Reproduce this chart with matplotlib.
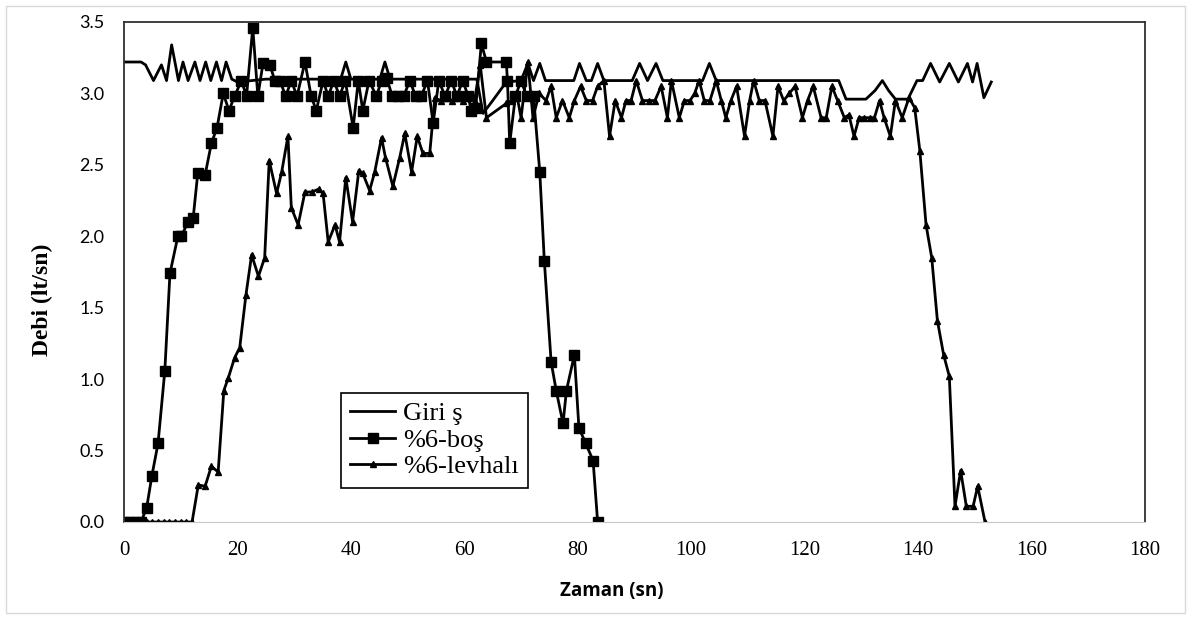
import numpy as np
import matplotlib.pyplot as plt
from matplotlib.patches import Rectangle

# (time s, flow lt/sn)
giris = [(0, 3.22), (1, 3.22), (2, 3.22), (3, 3.22), (3.8, 3.20), (5.2, 3.09), (6.6, 3.20),
         (7.5, 3.09), (8.4, 3.34), (9.6, 3.09), (10.4, 3.22), (11.3, 3.09), (12.5, 3.22),
         (13.4, 3.09), (14.4, 3.22), (15.3, 3.09), (16.3, 3.22), (17.2, 3.09), (18.0, 3.22),
         (19.0, 3.10), (20, 3.08), (25, 3.10), (30, 3.10), (35, 3.10), (38.2, 3.10),
         (39.1, 3.22), (40.0, 3.10), (45.1, 3.10), (46.0, 3.22), (46.9, 3.10), (55, 3.10),
         (62.2, 3.10), (63.3, 2.86), (65.0, 2.95), (67.4, 3.08), (70.0, 3.09), (71.2, 3.21),
         (72.2, 3.09), (73.3, 3.21), (74.3, 3.09), (79.3, 3.09), (80.3, 3.21), (81.5, 3.09),
         (82.4, 3.09), (83.5, 3.21), (84.6, 3.09), (89.6, 3.09), (90.9, 3.21), (92.3, 3.09),
         (93.8, 3.21), (95.0, 3.09), (102.0, 3.09), (103.2, 3.21), (104.4, 3.09), (126.0, 3.09),
         (127.3, 2.96), (130.8, 2.96), (132.4, 3.02), (133.7, 3.09), (134.8, 3.02), (136.0, 2.96),
         (138.2, 2.96), (139.8, 3.09), (140.8, 3.09), (142.2, 3.21), (143.8, 3.08), (145.5, 3.21),
         (147.1, 3.08), (148.7, 3.21), (149.6, 3.08), (150.4, 3.21), (151.6, 2.97), (152.9, 3.08)]

bos_t = [0, 1, 2, 3, 4.0, 4.9, 6.0, 7.2, 8.1, 9.5, 10.1, 11.3, 12.2, 13.0, 14.3, 15.4, 16.4,
         17.5, 18.5, 19.5, 20.7, 21.6, 22.7, 23.6, 24.5, 25.7, 26.6, 27.5, 28.5, 29.5, 30.5,
         31.9, 33.0, 33.9, 35.1, 36.0, 37.0, 38.0, 39.0, 40.4, 41.3, 42.1, 43.2, 44.5, 45.4,
         46.3, 47.3, 48.3, 49.3, 50.4, 51.4, 52.4, 53.5, 54.5, 55.5, 56.6, 57.7, 58.7, 59.7,
         60.7, 61.2, 62.0, 63.0, 63.9, 67.4, 67.6, 68.0, 69.0, 70.0, 71.0, 72.2, 73.3, 74.1,
         75.3, 76.2, 77.4, 78.0, 79.4, 80.2, 81.4, 82.7, 83.5]
bos_q = [0, 0, 0, 0, 0.10, 0.32, 0.55, 1.06, 1.74, 2.00, 2.00, 2.10, 2.13, 2.44, 2.43, 2.65,
         2.76, 3.00, 2.88, 2.98, 3.09, 2.98, 3.46, 2.98, 3.21, 3.20, 3.09, 3.09, 2.98, 3.09,
         2.98, 3.22, 2.98, 2.88, 3.09, 2.98, 3.09, 2.98, 3.09, 2.76, 3.09, 2.88, 3.09, 2.98,
         3.09, 3.11, 2.98, 2.98, 2.98, 3.09, 2.98, 2.98, 3.09, 2.79, 3.09, 2.98, 3.09, 2.98,
         3.09, 2.98, 2.88, 2.90, 3.35, 3.22, 3.22, 3.09, 2.65, 2.98, 3.09, 2.98, 2.98, 2.45,
         1.83, 1.12, 0.92, 0.69, 0.92, 1.17, 0.66, 0.55, 0.43, 0.0]

levha = [(0, 0), (1, 0), (2, 0), (3, 0), (4, 0), (5, 0), (6, 0), (7, 0), (8, 0), (9, 0), (10, 0),
         (11, 0), (12, 0), (13.1, 0.26), (14.3, 0.25), (15.4, 0.39), (16.6, 0.35), (17.6, 0.92),
         (18.4, 1.01), (19.5, 1.15), (20.4, 1.22), (21.5, 1.59), (22.5, 1.87), (23.7, 1.72),
         (24.8, 1.85), (25.6, 2.53), (26.9, 2.30), (27.8, 2.45), (28.9, 2.70), (29.5, 2.20),
         (30.7, 2.08), (31.9, 2.31), (33.1, 2.31), (34.3, 2.33), (35.1, 2.30), (36.0, 1.96),
         (37.2, 2.08), (38.0, 1.96), (39.1, 2.41), (40.3, 2.10), (41.4, 2.46), (42.1, 2.44),
         (43.3, 2.32), (44.2, 2.45), (45.4, 2.69), (46.1, 2.55), (47.4, 2.35), (48.6, 2.55),
         (49.5, 2.72), (50.7, 2.45), (51.7, 2.70), (52.7, 2.58), (53.9, 2.58), (54.8, 2.97),
         (55.8, 2.95), (56.8, 2.97), (57.8, 2.95), (58.8, 2.97), (59.8, 2.95), (60.8, 2.97),
         (61.8, 2.95), (62.8, 3.20), (63.9, 2.83), (67.4, 2.93), (68.4, 2.95), (69.2, 3.00),
         (70.0, 2.83), (71.2, 3.22), (72.1, 2.83), (73.2, 3.00), (74.4, 2.95), (75.3, 3.05),
         (76.2, 2.83), (77.3, 2.95), (78.5, 2.83), (79.4, 2.95), (80.5, 3.05), (81.5, 2.95),
         (82.6, 2.95), (83.5, 3.05), (84.6, 3.09), (85.6, 2.70), (86.6, 2.95), (87.7, 2.83),
         (88.5, 2.95), (89.4, 2.95), (90.3, 3.09), (91.4, 2.95), (92.5, 2.95), (93.6, 2.95),
         (94.7, 3.05), (95.8, 2.83), (96.5, 3.09), (97.9, 2.83), (98.8, 2.95), (99.8, 2.95),
         (100.6, 3.00), (101.4, 3.09), (102.3, 2.95), (103.3, 2.95), (104.4, 3.09), (105.3, 2.95),
         (106.1, 2.83), (107.0, 2.95), (108.0, 3.05), (109.4, 2.70), (110.3, 2.95), (111.0, 3.09),
         (112.0, 2.95), (113.0, 2.95), (114.4, 2.70), (115.3, 3.05), (116.3, 2.95), (117.3, 3.00),
         (118.3, 3.05), (119.6, 2.83), (120.5, 2.95), (121.5, 3.05), (122.9, 2.83), (123.8, 2.83),
         (124.8, 3.05), (125.8, 2.95), (127.0, 2.83), (127.8, 2.85), (128.7, 2.70), (129.6, 2.83),
         (130.5, 2.83), (131.5, 2.83), (132.3, 2.83), (133.2, 2.95), (134.0, 2.83), (135.1, 2.70),
         (136.0, 2.95), (137.2, 2.83), (138.4, 2.97), (139.4, 2.90), (140.3, 2.60), (141.4, 2.08),
         (142.4, 1.85), (143.4, 1.41), (144.5, 1.17), (145.5, 1.02), (146.5, 0.11), (147.5, 0.36),
         (148.5, 0.11), (149.7, 0.11), (150.5, 0.25), (151.8, 0.0)]

x_ticks = np.arange(0, 181, 20)
y_ticks = np.arange(0, 3.51, 0.5)

giris_t, giris_q = zip(*giris)
levha_t, levha_q = zip(*levha)

fig = plt.figure(figsize=(11.96, 6.19), dpi=100)
ax = fig.add_axes([124 / 1196, 97 / 619, 1021 / 1196, 500 / 619])

ax.plot(giris_t, giris_q, color='black', lw=2, label='Giri ş')
ax.plot(bos_t, bos_q, color='black', lw=2, marker='s', ms=7, label='%6-boş')
ax.plot(levha_t, levha_q, color='black', lw=2, marker='^', ms=4.5, label='%6-levhalı')

ax.set_xlim(0, 180)
ax.set_ylim(0, 3.5)
ax.set_xticks(x_ticks)
ax.set_yticks(y_ticks)
ax.set_yticklabels(['%.1f' % v for v in y_ticks], fontfamily='Lato', fontsize=13)
ax.set_xticklabels([str(v) for v in x_ticks], fontfamily='Liberation Serif', fontsize=15)
ax.tick_params(axis='both', length=0)
ax.tick_params(axis='y', pad=14)
ax.tick_params(axis='x', pad=14)

for side in ['left', 'top', 'right']:
    ax.spines[side].set_color('#303030')
    ax.spines[side].set_linewidth(1.3)
ax.spines['bottom'].set_color('#c8c8c8')
ax.spines['bottom'].set_linestyle((0, (1, 1)))

ax.set_xlabel('Zaman (sn)', fontfamily='Open Sans', fontweight='bold', fontsize=13.5, va='top')
ax.xaxis.set_label_coords(0.478, -0.118)
ax.set_ylabel('Debi (lt/sn)', fontfamily='Liberation Serif', fontweight='bold', fontsize=17, va='center')
ax.yaxis.set_label_coords(-0.08, 0.444)

leg = ax.legend(loc='upper left', bbox_to_anchor=(0.2125, 0.259), borderaxespad=0,
                prop={'family': 'Liberation Serif', 'size': 19}, fancybox=False,
                edgecolor='black', framealpha=1, handlelength=1.7, handletextpad=0.3,
                labelspacing=0.12, borderpad=0.35)
leg.get_frame().set_linewidth(1.2)

fig.patches.append(Rectangle((6 / 1196, 6 / 619), 1179 / 1196, 607 / 619, transform=fig.transFigure,
                             fill=False, edgecolor='#d9d9d9', lw=1))

fig.savefig('out.png', dpi=100)
